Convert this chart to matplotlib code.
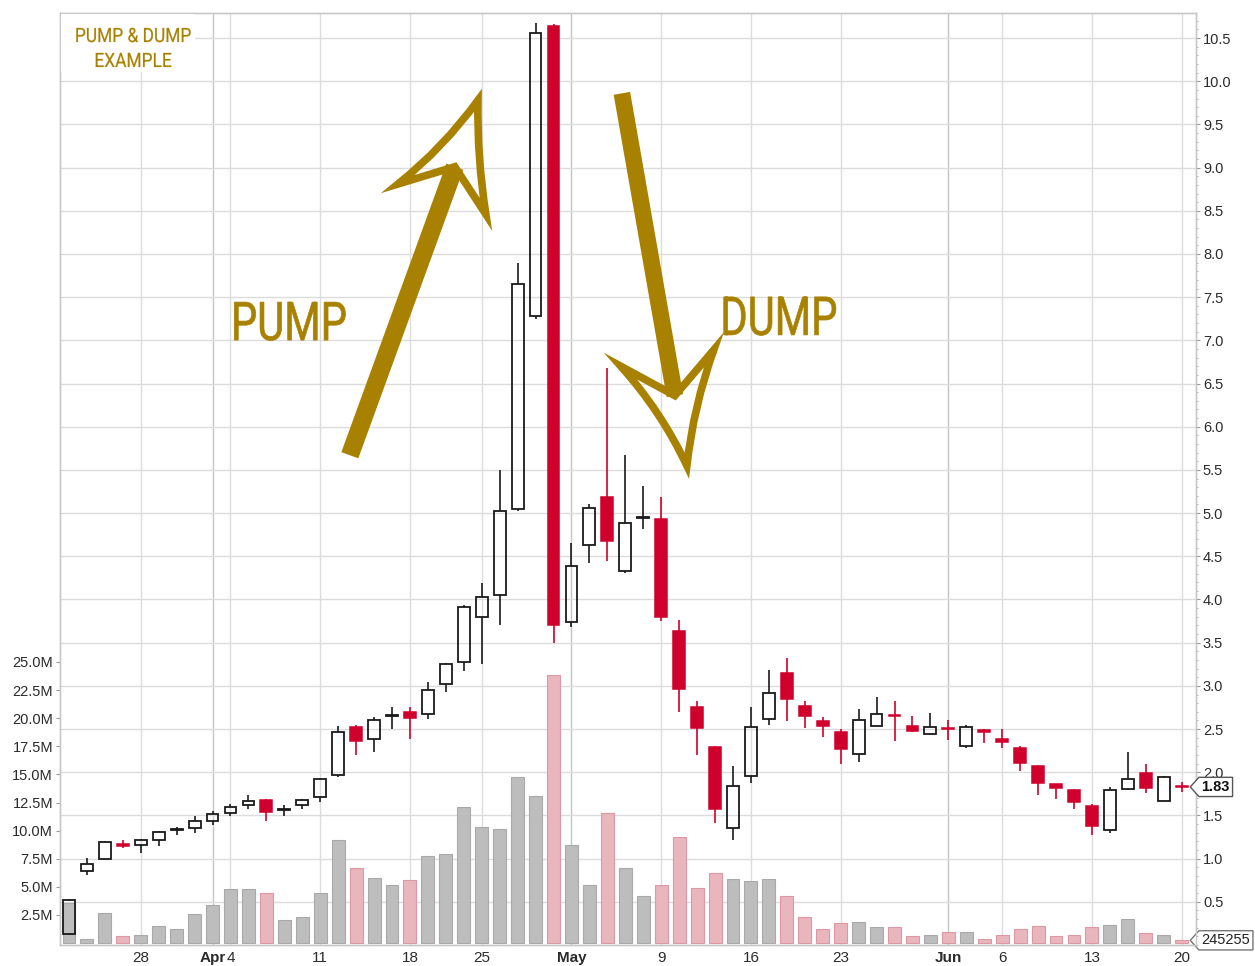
import numpy as np
import pandas as pd
import matplotlib
matplotlib.use('Agg')
import matplotlib.pyplot as plt
import matplotlib.transforms as mtransforms
from matplotlib.patches import Rectangle, PathPatch
from matplotlib.path import Path
from matplotlib.textpath import TextPath
from matplotlib.font_manager import FontProperties
from matplotlib.ticker import MultipleLocator

plt.rcParams['font.family'] = ['Liberation Sans', 'DejaVu Sans']

# trading days, Mar 22 - Jun 20 2011 (Good Friday and Memorial Day closed)
holidays = ['2011-04-22', '2011-05-30']
dates = pd.bdate_range('2011-03-22', '2011-06-20')
dates = dates[~dates.isin(pd.to_datetime(holidays))]

opens = [0.13, 0.86, 1.00, 1.17, 1.16, 1.21, 1.33, 1.36, 1.43, 1.53,
         1.62, 1.68, 1.56, 1.62, 1.71, 1.97, 2.52, 2.38, 2.65, 2.70,
         2.68, 3.02, 3.28, 3.80, 4.05, 5.05, 7.28, 10.64, 3.74, 4.63,
         5.19, 4.33, 4.94, 4.93, 3.64, 2.76, 2.29, 1.36, 1.96, 2.62,
         3.15, 2.77, 2.59, 2.47, 2.21, 2.54, 2.66, 2.54, 2.44, 2.51,
         2.30, 2.49, 2.38, 2.28, 2.07, 1.86, 1.80, 1.61, 1.33, 1.81,
         1.99, 1.67, 1.84]
highs = [0.53, 1.01, 1.20, 1.21, 1.23, 1.32, 1.37, 1.49, 1.55, 1.63,
         1.74, 1.69, 1.62, 1.69, 1.93, 2.53, 2.55, 2.64, 2.75, 2.75,
         3.04, 3.27, 3.94, 4.19, 5.50, 7.90, 10.67, 10.66, 4.65, 5.10,
         6.68, 5.67, 5.31, 5.19, 3.76, 2.83, 2.30, 2.07, 2.76, 3.18,
         3.32, 2.82, 2.64, 2.50, 2.73, 2.87, 2.82, 2.65, 2.69, 2.61,
         2.55, 2.50, 2.50, 2.30, 2.08, 1.86, 1.81, 1.63, 1.83, 2.24,
         2.10, 1.96, 1.89]
lows = [0.12, 0.81, 0.99, 1.12, 1.07, 1.15, 1.27, 1.30, 1.39, 1.49,
        1.58, 1.43, 1.49, 1.57, 1.65, 1.95, 2.20, 2.24, 2.50, 2.39,
        2.62, 2.93, 3.17, 3.25, 3.71, 5.03, 7.25, 3.50, 3.68, 4.42,
        4.45, 4.31, 4.82, 3.75, 2.70, 2.20, 1.41, 1.21, 1.88, 2.55,
        2.59, 2.51, 2.41, 2.10, 2.12, 2.53, 2.36, 2.47, 2.43, 2.37,
        2.28, 2.34, 2.28, 2.01, 1.74, 1.69, 1.58, 1.27, 1.30, 1.79,
        1.76, 1.67, 1.77]
closes = [0.52, 0.94, 1.19, 1.15, 1.22, 1.31, 1.34, 1.43, 1.52, 1.60,
          1.67, 1.54, 1.57, 1.68, 1.92, 2.47, 2.36, 2.60, 2.66, 2.63,
          2.95, 3.25, 3.91, 4.03, 5.03, 7.65, 10.56, 3.71, 4.39, 5.06,
          4.68, 4.89, 4.95, 3.80, 2.96, 2.51, 1.58, 1.84, 2.52, 2.92,
          2.85, 2.65, 2.53, 2.27, 2.61, 2.68, 2.65, 2.48, 2.52, 2.50,
          2.52, 2.47, 2.35, 2.11, 1.87, 1.82, 1.66, 1.38, 1.80, 1.92,
          1.82, 1.95, 1.83]
# volume in millions of shares
volumes = [3.6, 0.35, 2.7, 0.6, 0.74, 1.53, 1.24, 2.57, 3.37, 4.85,
           4.85, 4.43, 2.04, 2.33, 4.43, 9.2, 6.7, 5.76, 5.2, 5.65,
           7.77, 7.9, 12.1, 10.3, 10.15, 14.8, 13.05, 23.8, 8.7, 5.2,
           11.6, 6.7, 4.2, 5.2, 9.4, 4.9, 6.2, 5.7, 5.5, 5.7,
           4.15, 2.3, 1.24, 1.77, 1.9, 1.4, 1.4, 0.6, 0.72, 0.97,
           0.97, 0.4, 0.7, 1.24, 1.5, 0.6, 0.7, 1.4, 1.6, 2.1,
           0.86, 0.7, 0.245255]

o = np.array(opens)
h = np.array(highs)
l = np.array(lows)
c = np.array(closes)
v = np.array(volumes)
x = np.arange(len(dates))
up = c >= o

RED = '#d0002c'
GOLD = '#a98100'
GRID = '#dcdcdc'
FRAME = '#c8c8c8'
TXT = '#2b2b2b'

fig = plt.figure(figsize=(12.55, 9.66), dpi=100)
axv = fig.add_axes([60 / 1255, 21 / 966, 1136 / 1255, 932 / 966])
ax = axv.twinx()

# date ticks: Mondays and first trading day of each month
tick_pos, tick_lab, month_pos = [], [], []
for i, d in enumerate(dates):
    if i > 0 and d.month != dates[i - 1].month:
        tick_pos.append(i)
        tick_lab.append(d.strftime('%b'))
        month_pos.append(i)
    elif d.weekday() == 0:
        tick_pos.append(i)
        tick_lab.append(str(d.day))

# grid (kept under the volume bars)
for p in tick_pos:
    axv.axvline(p, color='#c4c4c4' if p in month_pos else GRID, lw=1.0, zorder=0)
price_ticks = np.arange(0.5, 10.51, 0.5)
blend_grid = mtransforms.blended_transform_factory(axv.transAxes, ax.transData)
for p in price_ticks:
    axv.plot([0, 1], [p, p], transform=blend_grid, color=GRID, lw=1.0, zorder=0)

# volume
axv.bar(x, v, width=0.72,
        color=np.where(up, '#bdbdbd', '#e9b6be'),
        edgecolor=np.where(up, '#a9a9a9', '#dc99a4'),
        linewidth=0.8, zorder=2)

# candles
w = 0.66
body_lo = np.minimum(o, c)
body_hi = np.maximum(o, c)
col = np.where(up, '#1a1a1a', RED)
ax.vlines(x, l, body_lo, colors=col, lw=1.2, zorder=3)
ax.vlines(x, body_hi, h, colors=col, lw=1.2, zorder=3)
for i in x:
    hgt = max(body_hi[i] - body_lo[i], 0.004)
    if up[i]:
        ax.add_patch(Rectangle((i - w / 2, body_lo[i]), w, hgt, fc='none',
                               ec='#1a1a1a', lw=1.3, zorder=4))
    else:
        ax.add_patch(Rectangle((i - w / 2, body_lo[i]), w, hgt, fc=RED,
                               ec=RED, lw=1.1, zorder=4))

# axes
axv.set_xlim(-0.5, 62.8)
ax.set_ylim(0, 10.79)
axv.set_ylim(-0.17, 82.7)

axv.set_xticks(tick_pos)
axv.set_xticklabels(tick_lab)
for t, p in zip(axv.get_xticklabels(), tick_pos):
    if p in month_pos:
        t.set_fontweight('bold')
axv.tick_params(axis='x', length=0, pad=4, labelsize=11, labelcolor=TXT)

vol_ticks = np.arange(2.5, 25.01, 2.5)
axv.set_yticks(vol_ticks)
axv.set_yticklabels([f'{t:.1f}M' for t in vol_ticks])
axv.tick_params(axis='y', length=3, pad=2, labelsize=10.5, labelcolor=TXT, color='#999999')

ax.set_yticks(price_ticks)
ax.set_yticklabels([f'{t:.1f}' for t in price_ticks])
ax.yaxis.set_minor_locator(MultipleLocator(0.1))
ax.tick_params(axis='y', which='major', length=3, pad=2, labelsize=10.5,
               labelcolor=TXT, color='#999999')
ax.tick_params(axis='y', which='minor', length=1.5, color='#aaaaaa')

for a in (ax, axv):
    for s in a.spines.values():
        s.set_color(FRAME)
        s.set_linewidth(1.0)


def tag_box(x0, y0, width, height, mutation_size):
    pad = mutation_size * 0.18
    x0, y0 = x0 - pad, y0 - pad
    x1, y1 = x0 + width + 2 * pad, y0 + height + 2 * pad
    tip = (y1 - y0) * 0.45
    return Path([(x0, y0), (x1, y0), (x1, y1), (x0, y1),
                 (x0 - tip, (y0 + y1) / 2), (x0, y0)], closed=True)


blend_p = mtransforms.blended_transform_factory(ax.transAxes, ax.transData)
ax.annotate(f'{c[-1]:.2f}', xy=(1.0, c[-1]), xycoords=blend_p,
            xytext=(4, 0), textcoords='offset points', ha='left', va='center',
            fontsize=10.5, fontweight='bold', color='#111111',
            bbox=dict(boxstyle=tag_box, fc='white', ec='#555555', lw=1.0),
            annotation_clip=False, zorder=6)
blend_v = mtransforms.blended_transform_factory(axv.transAxes, axv.transData)
axv.annotate(f'{int(round(v[-1] * 1e6))}', xy=(1.0, v[-1]), xycoords=blend_v,
             xytext=(4, 0), textcoords='offset points', ha='left', va='center',
             fontsize=10.5, color='#222222',
             bbox=dict(boxstyle=tag_box, fc='white', ec='#777777', lw=1.0),
             annotation_clip=False)


# condensed gold lettering (no narrow font installed, so squeeze the glyph path)
def squeezed_text(xy, s, size, sx, trans, thick):
    fp = FontProperties(family='Roboto', size=size, weight='normal')
    tp = TextPath((0, 0), s, prop=fp)
    bb = tp.get_extents()
    k = fig.dpi / 72
    tr = (mtransforms.Affine2D()
          .translate(-(bb.x0 + bb.x1) / 2, -(bb.y0 + bb.y1) / 2)
          .scale(sx * k, k)
          + mtransforms.ScaledTranslation(xy[0], xy[1], trans))
    ax.add_patch(PathPatch(tp, transform=tr, fc=GOLD, ec=GOLD, lw=thick,
                           zorder=6, clip_on=False))


# white patch behind the title hides the grid there
ax.add_patch(Rectangle((0.001, 0.937), 0.118, 0.0615, transform=ax.transAxes,
                       fc='white', ec='none', zorder=5))
squeezed_text((0.0647, 0.9764), 'PUMP & DUMP', 14.2, 0.88, ax.transAxes, 0.15)
squeezed_text((0.0647, 0.9496), 'EXAMPLE', 14.2, 0.88, ax.transAxes, 0.15)
squeezed_text((12.31, 7.22), 'PUMP', 38.5, 0.78, ax.transData, 0.5)
squeezed_text((39.61, 7.28), 'DUMP', 38.5, 0.78, ax.transData, 0.5)


def arrow(shaft, head, lw):
    ax.plot([shaft[0][0], shaft[1][0]], [shaft[0][1], shaft[1][1]], color=GOLD,
            lw=lw, solid_capstyle='butt', zorder=5, clip_on=False)
    lb, c1, tip, c2, rb, notch = head
    verts = [lb, c1, tip, c2, rb, notch, lb, lb]
    codes = [Path.MOVETO, Path.CURVE3, Path.CURVE3, Path.CURVE3, Path.CURVE3,
             Path.LINETO, Path.LINETO, Path.CLOSEPOLY]
    ax.add_patch(PathPatch(Path(verts, codes), fc='none', ec=GOLD, lw=5.5,
                           joinstyle='miter', zorder=5, clip_on=False))


arrow(((15.65, 5.67), (21.50, 9.01)),
      [(18.33, 8.81), (20.87, 9.23), (22.79, 9.78), (22.73, 9.12),
       (23.23, 8.46), (21.50, 9.01)], 13)
arrow(((30.81, 9.86), (33.76, 6.36)),
      [(30.75, 6.70), (33.00, 6.18), (34.43, 5.55), (34.80, 6.24),
       (35.93, 6.89), (33.76, 6.36)], 12)

fig.savefig('out.png', dpi=100)
